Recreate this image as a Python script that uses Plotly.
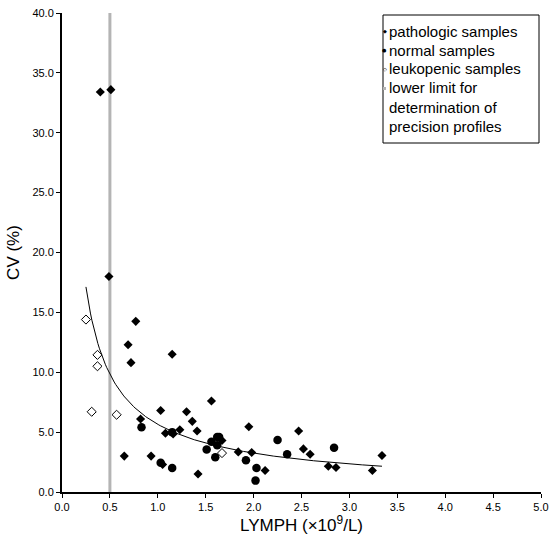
import numpy as np
import plotly.graph_objects as go

# Pathologic samples (filled diamonds)
path_x = [0.40, 0.51, 0.49, 0.77, 0.69, 0.72, 1.15, 1.56, 1.03, 0.82, 1.30, 1.36, 1.41, 1.23, 1.08, 1.16,
          0.65, 0.93, 1.05, 1.42, 1.67, 1.84, 1.95, 1.98, 2.12, 2.47, 2.52, 2.59, 2.78, 2.86, 3.24, 3.34]
path_y = [33.4, 33.6, 18.0, 14.25, 12.3, 10.8, 11.5, 7.6, 6.8, 6.1, 6.7, 5.9, 5.1, 5.2, 4.9, 4.85,
          3.0, 3.0, 2.3, 1.5, 4.3, 3.35, 5.45, 3.3, 1.8, 5.1, 3.6, 3.15, 2.15, 2.05, 1.8, 3.05]

# Normal samples (filled circles)
norm_x = [0.83, 1.15, 1.03, 1.15, 1.51, 1.56, 1.62, 1.64, 1.62, 1.60, 1.92, 2.03, 2.02, 2.25, 2.35, 2.84]
norm_y = [5.4, 5.0, 2.45, 2.0, 3.55, 4.2, 4.6, 4.6, 3.9, 2.9, 2.65, 2.0, 0.95, 4.35, 3.15, 3.7]

# Leukopenic samples (open diamonds)
leuk_x = [0.25, 0.37, 0.37, 0.31, 0.57, 1.67]
leuk_y = [14.4, 11.45, 10.5, 6.7, 6.45, 3.25]

# Lower limit line
limit_x = 0.5
y_range = [0, 40]
x_range = [0, 5]

# Power trendline y = A * x^B (coefficients)
TREND_A = 5.65
TREND_B = -0.80
TREND_X_RANGE = [0.25, 3.34]

x_ticks = [0.0, 0.5, 1.0, 1.5, 2.0, 2.5, 3.0, 3.5, 4.0, 4.5, 5.0]
y_ticks = [0.0, 5.0, 10.0, 15.0, 20.0, 25.0, 30.0, 35.0, 40.0]

legend_labels = ["pathologic samples", "normal samples", "leukopenic samples",
                 "lower limit for<br>determination of<br>precision profiles"]

FONT = "Arial, Liberation Sans, sans-serif"
W, H = 552, 537
ML, MR, MT, MB = 62, 11, 13, 45
PW, PH = W - ML - MR, H - MT - MB


def px(xpix):
    return (xpix - ML) / PW


def py(ypix):
    return (H - MB - ypix) / PH


fig = go.Figure()

fig.add_trace(go.Scatter(
    x=[limit_x, limit_x], y=y_range, mode="lines",
    line=dict(color="#b4b4b4", width=3),
    name="lower limit for determination of precision profiles", showlegend=False))

tx = np.linspace(TREND_X_RANGE[0], TREND_X_RANGE[1], 200)
fig.add_trace(go.Scatter(
    x=tx, y=TREND_A * tx ** TREND_B, mode="lines",
    line=dict(color="black", width=1), showlegend=False, hoverinfo="skip"))

fig.add_trace(go.Scatter(
    x=path_x, y=path_y, mode="markers", name=legend_labels[0], showlegend=False,
    marker=dict(symbol="diamond", size=7, color="black")))

fig.add_trace(go.Scatter(
    x=norm_x, y=norm_y, mode="markers", name=legend_labels[1], showlegend=False,
    marker=dict(symbol="circle", size=8.5, color="black")))

fig.add_trace(go.Scatter(
    x=leuk_x, y=leuk_y, mode="markers", name=legend_labels[2], showlegend=False,
    marker=dict(symbol="diamond", size=7, color="white",
                line=dict(color="black", width=1))))

# Manual legend box
shapes = [dict(type="rect", xref="paper", yref="paper",
               x0=px(383), x1=px(539), y0=py(143), y1=py(15),
               line=dict(color="black", width=1), fillcolor="white", layer="above")]
annotations = []
legend_y = [31, 50, 69, 107.5]
glyphs = ["◆", "●", "◇", None]
for lab, yy, g in zip(legend_labels, legend_y, glyphs):
    annotations.append(dict(
        xref="paper", yref="paper", x=px(387), y=py(yy), xanchor="left", yanchor="middle",
        text=lab, showarrow=False, align="left", font=dict(size=15, family=FONT, color="black")))
    if g:
        annotations.append(dict(
            xref="paper", yref="paper", x=px(384.5), y=py(yy), xanchor="center", yanchor="middle",
            text=g, showarrow=False, font=dict(size=5, family="DejaVu Sans", color="black")))
shapes.append(dict(type="line", xref="paper", yref="paper",
                   x0=px(383), x1=px(386), y0=py(88.5), y1=py(88.5),
                   line=dict(color="#b4b4b4", width=3), layer="above"))

fig.update_layout(
    width=W, height=H,
    margin=dict(l=ML, r=MR, t=MT, b=MB),
    paper_bgcolor="white", plot_bgcolor="white",
    font=dict(family=FONT, color="black", size=11),
    showlegend=False,
    shapes=shapes, annotations=annotations,
    xaxis=dict(
        range=x_range, tickvals=x_ticks, tickformat=".1f", automargin=False,
        showgrid=False, zeroline=False, showline=True, linecolor="black", linewidth=2,
        ticks="outside", ticklen=4, tickcolor="black", tickwidth=1,
        title=dict(text="LYMPH (×10<sup>9</sup>/L)", font=dict(size=17), standoff=4),
        tickfont=dict(size=11),
    ),
    yaxis=dict(
        range=y_range, tickvals=y_ticks, tickformat=".1f", automargin=False,
        showgrid=False, zeroline=False, showline=True, linecolor="black", linewidth=2,
        ticks="outside", ticklen=4, tickcolor="black", tickwidth=1,
        title=dict(text="CV (%)", font=dict(size=17), standoff=8),
        tickfont=dict(size=11),
    ),
)

fig.write_html("out.html")
